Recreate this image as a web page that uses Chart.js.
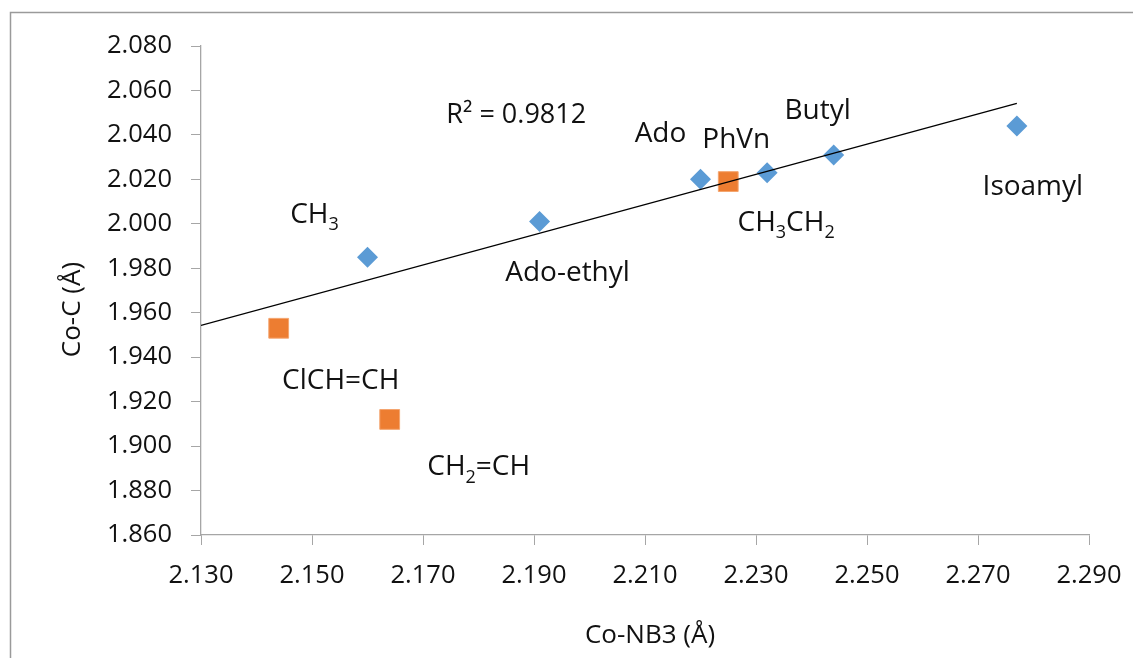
<!DOCTYPE html>
<html>
<head>
<meta charset="utf-8">
<title>Co-C vs Co-NB3</title>
<script src="https://cdn.jsdelivr.net/npm/chart.js@4.4.1/dist/chart.umd.min.js"></script>
<style>
  html, body { margin: 0; padding: 0; background: #fff; }
  #wrap { width: 1133px; height: 658px; }
</style>
</head>
<body>
<div id="wrap"><canvas id="bondChart" width="1133" height="658"></canvas></div>
<script>
// alkyl ligands (blue diamonds); {n} marks a subscript
const alkylNames = ['CH{3}', 'Ado-ethyl', 'Ado', 'CH{3}CH{2}', 'Butyl', 'Isoamyl'];
const alkylCoNB3 = [2.160, 2.191, 2.220, 2.232, 2.244, 2.277];
const alkylCoC   = [1.985, 2.001, 2.020, 2.023, 2.031, 2.044];

// vinyl ligands (orange squares)
const vinylNames = ['ClCH=CH', 'CH{2}=CH', 'PhVn'];
const vinylCoNB3 = [2.144, 2.164, 2.225];
const vinylCoC   = [1.953, 1.912, 2.019];

// linear trendline end points
const trendCoNB3 = [2.130, 2.277];
const trendCoC   = [1.9543, 2.0542];
const trendLabel = 'R² = 0.9812';

const xTicks = [2.130, 2.150, 2.170, 2.190, 2.210, 2.230, 2.250, 2.270, 2.290];
const yTicks = [1.860, 1.880, 1.900, 1.920, 1.940, 1.960, 1.980, 2.000, 2.020, 2.040, 2.060, 2.080];

const xTitle = 'Co-NB3 (Å)';
const yTitle = 'Co-C (Å)';

const FONT = "'Open Sans', 'Noto Sans', sans-serif";
const AXIS_GREY = '#a6a6a6';

// where each point's name sits: [dx, dy] from the marker to text centre / baseline
const labelOffsets = {
  'CH{3}':      [-53, -34],
  'Ado-ethyl':  [28, 59],
  'Ado':        [-40, -37],
  'CH{3}CH{2}': [19, 58],
  'Butyl':      [-16, -36],
  'Isoamyl':    [16, 69],
  'ClCH=CH':    [62, 61],
  'CH{2}=CH':   [89, 56],
  'PhVn':       [8, -34]
};

function toPoints(xs, ys) {
  return xs.map((x, i) => ({ x: x, y: ys[i] }));
}

// split "CH{3}CH{2}" into normal / subscript runs
function parseRuns(text) {
  const runs = [];
  const re = /([^{}]+)|\{([^}]*)\}/g;
  let m;
  while ((m = re.exec(text)) !== null) {
    if (m[1]) runs.push({ t: m[1], sub: false });
    else runs.push({ t: m[2], sub: true });
  }
  return runs;
}

function drawRich(ctx, text, cx, baseline, size) {
  const runs = parseRuns(text);
  const subSize = Math.round(size * 0.64);
  let total = 0;
  runs.forEach(r => {
    ctx.font = (r.sub ? subSize : size) + 'px ' + FONT;
    r.w = ctx.measureText(r.t).width;
    total += r.w;
  });
  let x = cx - total / 2;
  ctx.textAlign = 'left';
  ctx.textBaseline = 'alphabetic';
  runs.forEach(r => {
    ctx.font = (r.sub ? subSize : size) + 'px ' + FONT;
    ctx.fillText(r.t, x, baseline + (r.sub ? size * 0.26 : 0));
    x += r.w;
  });
}

const framePlugin = {
  id: 'frame',
  beforeDraw(chart) {
    const ctx = chart.ctx;
    ctx.save();
    ctx.fillStyle = '#fff';
    ctx.fillRect(0, 0, chart.width, chart.height);
    ctx.strokeStyle = '#9a9a9a';
    ctx.lineWidth = 1.5;
    ctx.beginPath();
    ctx.moveTo(10.5, chart.height);
    ctx.lineTo(10.5, 12.5);
    ctx.lineTo(chart.width, 12.5);
    ctx.stroke();
    ctx.restore();
  }
};

const namesPlugin = {
  id: 'pointNames',
  afterDatasetsDraw(chart) {
    const ctx = chart.ctx;
    ctx.save();
    ctx.fillStyle = '#111';
    [[1, alkylNames], [2, vinylNames]].forEach(([idx, names]) => {
      const meta = chart.getDatasetMeta(idx);
      meta.data.forEach((pt, j) => {
        const off = labelOffsets[names[j]] || [0, -30];
        drawRich(ctx, names[j], pt.x + off[0], pt.y + off[1], 28);
      });
    });

    // R² text of the trendline
    const area = chart.chartArea;
    ctx.font = '27px ' + FONT;
    ctx.textAlign = 'center';
    ctx.textBaseline = 'alphabetic';
    ctx.fillText(trendLabel, area.left + (area.right - area.left) * 0.355, area.top + 77);

    // axis titles
    ctx.font = '26px ' + FONT;
    ctx.fillText(xTitle, (area.left + area.right) / 2 + 5, 643);
    ctx.translate(80, (area.top + area.bottom) / 2 + 19);
    ctx.rotate(-Math.PI / 2);
    ctx.fillText(yTitle, 0, 0);
    ctx.restore();
  }
};

const ctx = document.getElementById('bondChart').getContext('2d');
new Chart(ctx, {
  type: 'scatter',
  data: {
    datasets: [{
      label: 'Linear fit',
      data: toPoints(trendCoNB3, trendCoC),
      showLine: true,
      borderColor: '#000',
      borderWidth: 1.4,
      pointRadius: 0,
      fill: false
    }, {
      label: 'Alkyl',
      data: toPoints(alkylCoNB3, alkylCoC),
      pointStyle: 'rectRot',
      pointRadius: 10.5,
      backgroundColor: '#5b9bd5',
      borderColor: '#5b9bd5',
      borderWidth: 0
    }, {
      label: 'Vinyl',
      data: toPoints(vinylCoNB3, vinylCoC),
      pointStyle: 'rect',
      pointRadius: 14,
      backgroundColor: '#ed7d31',
      borderColor: '#f4a56f',
      borderWidth: 1
    }]
  },
  options: {
    responsive: false,
    animation: false,
    events: [],
    layout: { padding: { top: 46, right: 44, left: 0, bottom: 0 } },
    plugins: {
      legend: { display: false },
      tooltip: { enabled: false },
      title: { display: false }
    },
    scales: {
      x: {
        type: 'linear',
        min: 2.130,
        max: 2.290,
        afterFit(scale) {
          scale.height = 123;
          scale.paddingLeft = 0;
          scale.paddingRight = 0;
        },
        afterBuildTicks(scale) { scale.ticks = xTicks.map(v => ({ value: v })); },
        grid: { drawOnChartArea: false, drawTicks: true, tickLength: 10, color: AXIS_GREY },
        border: { color: AXIS_GREY, width: 1.3 },
        ticks: {
          padding: 15,
          color: '#111',
          font: { family: FONT, size: 25.5 },
          maxRotation: 0,
          callback: v => v.toFixed(3)
        }
      },
      y: {
        type: 'linear',
        min: 1.860,
        max: 2.080,
        afterFit(scale) {
          scale.width = 201;
          scale.paddingTop = 0;
          scale.paddingBottom = 0;
        },
        afterBuildTicks(scale) { scale.ticks = yTicks.map(v => ({ value: v })); },
        grid: { drawOnChartArea: false, drawTicks: true, tickLength: 10, color: AXIS_GREY },
        border: { color: AXIS_GREY, width: 1.3 },
        ticks: {
          padding: 19,
          color: '#111',
          font: { family: FONT, size: 25.5 },
          callback: v => v.toFixed(3)
        }
      }
    }
  },
  plugins: [framePlugin, namesPlugin]
});
</script>
</body>
</html>
